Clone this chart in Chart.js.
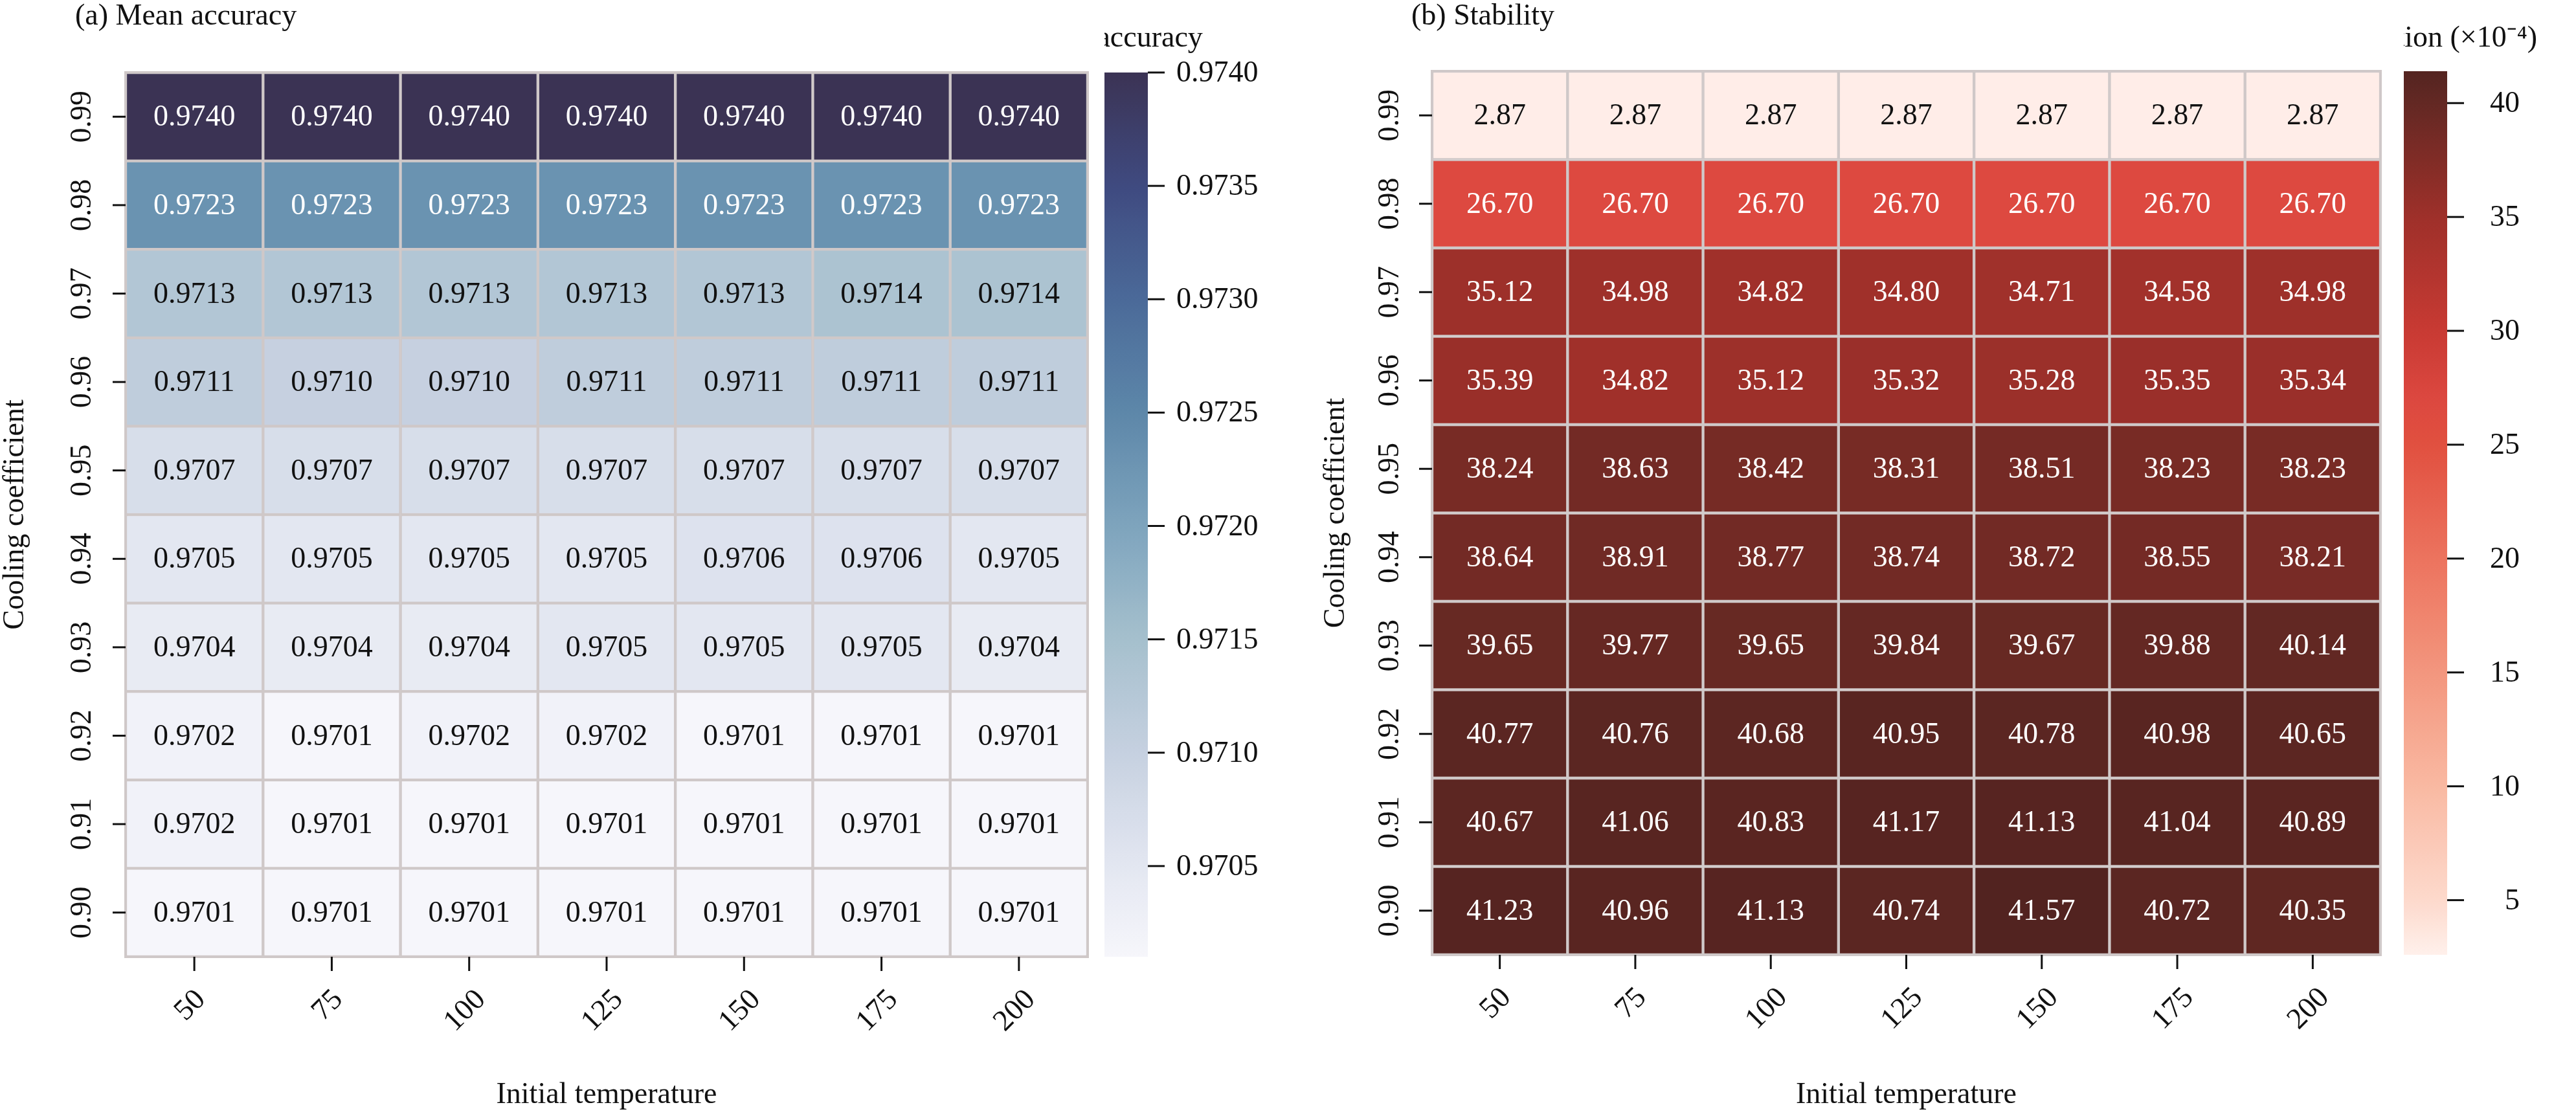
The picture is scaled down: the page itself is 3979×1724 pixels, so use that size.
<!DOCTYPE html>
<html><head><meta charset="utf-8">
<script src="https://cdn.jsdelivr.net/npm/chart.js@4"></script>
<style>body{margin:0;background:#fff;width:3979px;height:1724px;position:relative;overflow:hidden}
canvas{position:absolute}</style></head>
<body>
<canvas id="ha"></canvas><canvas id="ca"></canvas>
<canvas id="hb"></canvas><canvas id="cb"></canvas>
<script>
const temps = [50, 75, 100, 125, 150, 175, 200];
const coefs = ['0.99','0.98','0.97','0.96','0.95','0.94','0.93','0.92','0.91','0.90'];
const meanAccuracy = [
 [0.9740,0.9740,0.9740,0.9740,0.9740,0.9740,0.9740],
 [0.9723,0.9723,0.9723,0.9723,0.9723,0.9723,0.9723],
 [0.9713,0.9713,0.9713,0.9713,0.9713,0.9714,0.9714],
 [0.9711,0.9710,0.9710,0.9711,0.9711,0.9711,0.9711],
 [0.9707,0.9707,0.9707,0.9707,0.9707,0.9707,0.9707],
 [0.9705,0.9705,0.9705,0.9705,0.9706,0.9706,0.9705],
 [0.9704,0.9704,0.9704,0.9705,0.9705,0.9705,0.9704],
 [0.9702,0.9701,0.9702,0.9702,0.9701,0.9701,0.9701],
 [0.9702,0.9701,0.9701,0.9701,0.9701,0.9701,0.9701],
 [0.9701,0.9701,0.9701,0.9701,0.9701,0.9701,0.9701]];
const stdDev = [
 [2.87,2.87,2.87,2.87,2.87,2.87,2.87],
 [26.70,26.70,26.70,26.70,26.70,26.70,26.70],
 [35.12,34.98,34.82,34.80,34.71,34.58,34.98],
 [35.39,34.82,35.12,35.32,35.28,35.35,35.34],
 [38.24,38.63,38.42,38.31,38.51,38.23,38.23],
 [38.64,38.91,38.77,38.74,38.72,38.55,38.21],
 [39.65,39.77,39.65,39.84,39.67,39.88,40.14],
 [40.77,40.76,40.68,40.95,40.78,40.98,40.65],
 [40.67,41.06,40.83,41.17,41.13,41.04,40.89],
 [41.23,40.96,41.13,40.74,41.57,40.72,40.35]];
const accTicks = [0.9705,0.9710,0.9715,0.9720,0.9725,0.9730,0.9735,0.9740];
const stdTicks = [5,10,15,20,25,30,35,40];

const accStops = [[0.9701,'#f6f6fb'],[0.9705,'#e3e7f1'],[0.9710,'#c6d0e0'],[0.9715,'#a5c0cd'],[0.9720,'#7ea4bd'],[0.9725,'#5d87a9'],[0.9730,'#4b6a99'],[0.9735,'#3f4a80'],[0.9740,'#3b3354']];
const stdStops = [[2.6,'#fff0eb'],[5,'#fdd9cc'],[10,'#f9b9a2'],[15,'#f3967e'],[20,'#ec735e'],[25,'#e1503f'],[27,'#dc4840'],[30,'#c83a33'],[35,'#9e302a'],[40,'#632823'],[41.6,'#522320']];
function hex(c){return [1,3,5].map(i=>parseInt(c.substr(i,2),16));}
function cmap(stops,v){
  if(v<=stops[0][0])return stops[0][1];
  for(let i=1;i<stops.length;i++){ if(v<=stops[i][0]){const a=hex(stops[i-1][1]),b=hex(stops[i][1]);const t=(v-stops[i-1][0])/(stops[i][0]-stops[i-1][0]);
    return 'rgb('+a.map((x,k)=>Math.round(x+(b[k]-x)*t)).join(',')+')';}}
  return stops[stops.length-1][1];
}
const FONT='"Liberation Serif", "Times New Roman", serif';
const FS=46;

function heatmap(id,left,width,pad,values,stops,fmt,textColor,title,ylabX,ytickX){
  const cv=document.getElementById(id); cv.style.left=left+'px'; cv.style.top='0px';
  cv.width=width; cv.height=1724; cv.style.width=width+'px'; cv.style.height='1724px';
  const n=coefs.length;
  const datasets=[];
  for(let r=n-1;r>=0;r--){ // bottom row first
    datasets.push({label:coefs[r],data:temps.map(()=>1),rowVals:values[r],
      backgroundColor:values[r].map(v=>cmap(stops,v)),borderColor:'#cfc8c8',borderWidth:2.5,borderSkipped:false});
  }
  const plug={id:'deco'+id,afterDatasetsDraw(ch){
    const c=ch.ctx,a=ch.chartArea,xs=ch.scales.x,ys=ch.scales.y;
    c.save();
    c.strokeStyle='#cfc8c8';c.lineWidth=4;c.strokeRect(a.left,a.top,a.right-a.left,a.bottom-a.top);
    c.font=FS+'px '+FONT;c.textAlign='center';c.textBaseline='middle';
    ch.data.datasets.forEach((ds,di)=>{const meta=ch.getDatasetMeta(di);
      meta.data.forEach((el,j)=>{const v=ds.rowVals[j];c.fillStyle=textColor(v);
        c.fillText(fmt(v),el.x,(el.y+el.base)/2+2);});});
    c.fillStyle='#111';c.strokeStyle='#111';c.lineWidth=3;
    // y ticks
    for(let r=0;r<n;r++){const y=ys.getPixelForValue(n-r-0.5);
      c.beginPath();c.moveTo(a.left-20,y);c.lineTo(a.left,y);c.stroke();
      c.save();c.translate(ytickX,y);c.rotate(-Math.PI/2);c.textAlign='center';c.textBaseline='middle';c.fillText(coefs[r],0,0);c.restore();}
    // x ticks
    temps.forEach((t,j)=>{const x=xs.getPixelForValue(j);
      c.beginPath();c.moveTo(x,a.bottom);c.lineTo(x,a.bottom+22);c.stroke();
      const w=c.measureText(String(t)).width,h=FS*0.7;
      const half=(w*Math.SQRT1_2+h*Math.SQRT1_2)/2;
      c.save();c.translate(x-6,a.bottom+48+half);c.rotate(-Math.PI/4);c.textAlign='center';c.textBaseline='middle';c.fillText(String(t),0,0);c.restore();});
    c.textAlign='center';c.textBaseline='middle';
    c.fillText('Initial temperature',(a.left+a.right)/2,1692);
    c.save();c.translate(ylabX,(a.top+a.bottom)/2);c.rotate(-Math.PI/2);c.fillText('Cooling coefficient',0,0);c.restore();
    c.textAlign='left';c.fillText(title[0],title[1],26);
    c.restore();}};
  return new Chart(cv,{type:'bar',data:{labels:temps.map(String),datasets},
    options:{responsive:false,animation:false,devicePixelRatio:1,
      layout:{padding:pad},
      plugins:{legend:{display:false},tooltip:{enabled:false}},
      datasets:{bar:{barPercentage:1,categoryPercentage:1}},
      scales:{x:{display:false,stacked:true},y:{display:false,stacked:true,min:0,max:n}}}, plugins:[plug]});
}
function colorbar(id,left,width,top,bottom,stops,vmin,vmax,ticks,fmt,title,titleX,labelRight){
  const cv=document.getElementById(id);cv.style.left=left+'px';cv.style.top='0px';
  cv.width=width;cv.height=1724;cv.style.width=width+'px';cv.style.height='1724px';
  const barW=67;
  const plug={id:'cbd'+id,afterDatasetsDraw(ch){
    const c=ch.ctx,a=ch.chartArea,ys=ch.scales.y;c.save();
    c.fillStyle='#111';c.strokeStyle='#111';c.lineWidth=3;c.font=FS+'px '+FONT;c.textBaseline='middle';
    ticks.forEach(t=>{const y=ys.getPixelForValue(t);
      c.beginPath();c.moveTo(a.right,y);c.lineTo(a.right+26,y);c.stroke();
      if(labelRight){c.textAlign='right';c.fillText(fmt(t),a.right+112,y+2);}
      else{c.textAlign='left';c.fillText(fmt(t),a.right+44,y+2);}});
    c.textAlign='center';c.fillText(title,titleX,60);
    c.restore();}};
  return new Chart(cv,{type:'bar',data:{labels:[''],datasets:[{data:[[vmin,vmax]],borderWidth:0,
      backgroundColor:(ctx)=>{const a=ctx.chart.chartArea;if(!a)return '#ccc';
        const g=ctx.chart.ctx.createLinearGradient(0,a.bottom,0,a.top);
        for(let i=0;i<=60;i++){const v=vmin+(vmax-vmin)*i/60;g.addColorStop(i/60,cmap(stops,v));}return g;}}]},
    options:{responsive:false,animation:false,devicePixelRatio:1,
      layout:{padding:{left:0,right:width-barW,top:top,bottom:1724-bottom}},
      plugins:{legend:{display:false},tooltip:{enabled:false}},
      datasets:{bar:{barPercentage:1,categoryPercentage:1}},
      scales:{x:{display:false},y:{display:false,min:vmin,max:vmax}}},plugins:[plug]});
}
heatmap('ha',0,1700,{left:194,right:1700-1680,top:112,bottom:1724-1478},meanAccuracy,accStops,v=>v.toFixed(4),v=>v>=0.9720?'#fff':'#111',['(a) Mean accuracy',116],24,128);
colorbar('ca',1706,400,112,1478,accStops,0.9701,0.9740,accTicks,v=>v.toFixed(4),'Mean accuracy',12,false);
heatmap('hb',1990,1700,{left:222,right:1700-1687,top:110,bottom:1724-1475},stdDev,stdStops,v=>v.toFixed(2),v=>v<10?'#111':'#fff',['(b) Stability',190],74,158);
colorbar('cb',3713,266,110,1475,stdStops,2.6,41.4,stdTicks,v=>String(v),'Standard deviation (×10⁻⁴)',-40,true);
</script></body></html>
